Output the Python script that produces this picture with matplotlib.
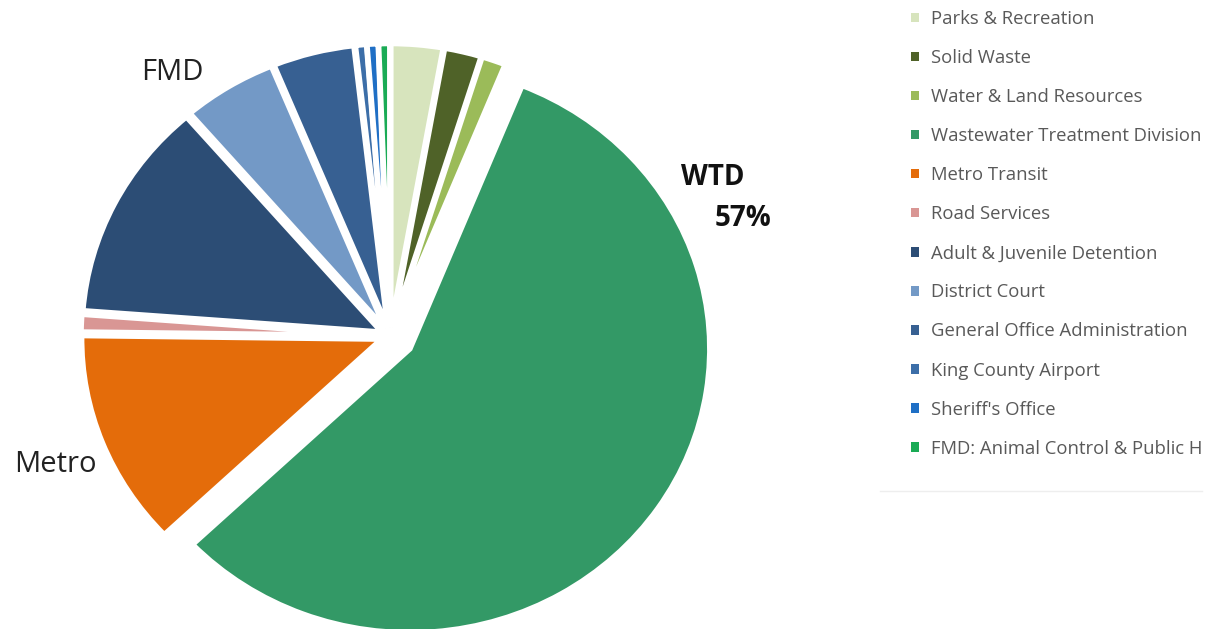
import matplotlib
matplotlib.use("Agg")
import matplotlib.pyplot as plt
from matplotlib.patches import Patch
from matplotlib.lines import Line2D

# department shares of the total (percent), clockwise from 12 o'clock
departments = ['Parks & Recreation', 'Solid Waste', 'Water & Land Resources',
               'Wastewater Treatment Division', 'Metro Transit', 'Road Services',
               'Adult & Juvenile Detention', 'District Court',
               'General Office Administration', 'King County Airport',
               "Sheriff's Office", 'FMD: Animal Control & Public H']
shares = [2.8, 2.0, 1.3, 56.8, 12.3, 1.0, 12.5, 5.1, 4.4, 0.6, 0.6, 0.6]
colors = ['#d7e4bd', '#4f6228', '#9bbb59', '#339966', '#e46c0a', '#d99694',
          '#2c4d75', '#7399c6', '#376092', '#3c6ea8', '#1f6fc5', '#1aab55']
explode = [0.03, 0.03, 0.03, 0.08, 0.03, 0.03, 0.03, 0.03, 0.03, 0.03, 0.03, 0.03]

plt.rcParams['font.family'] = ['Open Sans', 'DejaVu Sans']

fig = plt.figure(figsize=(12.12, 6.29), dpi=100)
W, H = 1212, 629

# pie centre / radii in pixels (the original is stretched a bit horizontally)
cx, cy, rx, ry = 390, 336, 300, 284
lim = 1.35
ax = fig.add_axes([(cx - lim * rx) / W, (H - cy - lim * ry) / H,
                   2 * lim * rx / W, 2 * lim * ry / H])

wedges, _ = ax.pie(shares, colors=colors, explode=explode, startangle=90,
                   counterclock=False,
                   wedgeprops=dict(edgecolor='white', linewidth=4))
ax.set_aspect('auto')
ax.set_xlim(-lim, lim)
ax.set_ylim(-lim, lim)
ax.axis('off')

# slice callouts
fig.text(172 / W, 1 - 72 / H, 'FMD', fontsize=21, color='#222222',
         ha='center', va='center')
fig.text(55 / W, 1 - 465 / H, 'Metro', fontsize=21, color='#222222',
         ha='center', va='center')
fig.text(713 / W, 1 - 178 / H, 'WTD', fontsize=20, fontweight='bold',
         color='#111111', ha='center', va='center')
fig.text(743 / W, 1 - 218 / H, '57%', fontsize=20, fontweight='bold',
         color='#111111', ha='center', va='center')

handles = [Patch(facecolor=c, edgecolor='none') for c in colors]
leg = fig.legend(handles, departments, loc='upper left',
                 bbox_to_anchor=(911 / W, 1 - 10 / H), frameon=False,
                 fontsize=13.3, labelcolor='#595959',
                 handlelength=0.42, handleheight=0.42, handletextpad=0.65,
                 labelspacing=1.14, borderaxespad=0, borderpad=0)

fig.add_artist(Line2D([880 / W, 1202 / W], [1 - 491 / H, 1 - 491 / H],
                      color='#eeeeee', linewidth=1))

fig.savefig('out.png', dpi=100)
